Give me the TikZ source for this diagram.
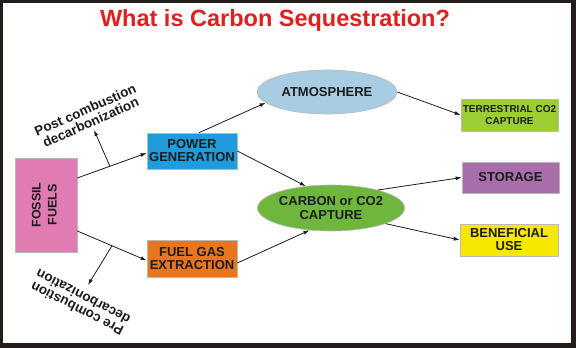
\documentclass[tikz,border=0pt]{standalone}
\usepackage{fontspec}
\setmainfont{Liberation Sans}
\usepackage{graphicx}
\usetikzlibrary{arrows.meta, shapes.geometric, calc}

\definecolor{framedark}{RGB}{35,30,28}
\definecolor{titlered}{RGB}{222,32,30}
\definecolor{txtdark}{RGB}{28,28,28}
\definecolor{fossilpink}{RGB}{224,124,178}
\definecolor{powerblue}{RGB}{30,156,220}
\definecolor{fuelorange}{RGB}{232,118,30}
\definecolor{atmosblue}{RGB}{168,204,226}
\definecolor{capturegreen}{RGB}{110,182,60}
\definecolor{terrgreen}{RGB}{156,206,52}
\definecolor{storepurple}{RGB}{168,110,172}
\definecolor{benefyellow}{RGB}{246,232,0}

\begin{document}
\begin{tikzpicture}[x=1pt, y=-1pt,
  box/.style={draw=gray!55, line width=0.6pt, minimum width=90pt, minimum height=36pt,
              align=center, inner sep=1pt, text=txtdark,
              font=\fontsize{13}{13}\selectfont\bfseries},
  sbox/.style={box, minimum width=97pt, minimum height=32pt},
  oval/.style={ellipse, draw=gray!55, line width=0.6pt, align=center, inner sep=0pt,
               text=txtdark, font=\fontsize{13}{14}\selectfont\bfseries},
  arr/.style={-{Latex[length=6pt, width=4pt]}, line width=0.8pt, color=txtdark},
  side/.style={align=center, text=txtdark, inner sep=0pt,
               font=\fontsize{13.5}{13.5}\selectfont\bfseries}
]

  % Frame
  \fill[framedark] (0,0) rectangle (576,348);
  \fill[white] (3,3) rectangle (571,343);

  % Title
  \node[text=titlered, font=\fontsize{23.5}{27}\selectfont\bfseries] (title) at (275,20)
    {What is Carbon Sequestration?};

  % Source and process boxes
  \node[box, fill=fossilpink, minimum width=62pt, minimum height=94pt,
        font=\fontsize{12.5}{13}\selectfont\bfseries] (fossil) at (46,205)
    {\rotatebox{90}{\begin{tabular}{@{}c@{}}FOSSIL\\[3pt]FUELS\end{tabular}}};
  \node[box, fill=powerblue] (power) at (192,151) {POWER\\GENERATION};
  \node[box, fill=fuelorange, minimum height=37pt] (fuelgas) at (192,258.5) {FUEL GAS\\EXTRACTION};

  % Ovals
  \node[oval, fill=atmosblue, minimum width=140pt, minimum height=44pt] (atmos) at (327,92) {ATMOSPHERE};
  \node[oval, fill=capturegreen, minimum width=135pt, minimum height=46pt] (capture) at (331,208)
    {CARBON or CO2\\CAPTURE};

  % Output boxes
  \node[sbox, fill=terrgreen, font=\fontsize{10}{12}\selectfont\bfseries] (terr) at (509.5,115)
    {TERRESTRIAL CO2\\CAPTURE};
  \node[sbox, fill=storepurple, minimum height=31pt] (storage) at (510.5,177.5) {STORAGE};
  \node[sbox, fill=benefyellow, minimum width=98pt] (benef) at (509,240) {BENEFICIAL\\USE};

  % Side labels
  \node[side, rotate=24] (postlbl) at (88,116) {Post combustion\\decarbonization};
  \node[side, rotate=153] (prelbl) at (80,303) {Pre combustion\\decarbonization};
  \coordinate (posttip) at (94,130);
  \coordinate (pretip) at (88,285);

  % Arrows from fossil fuels
  \draw[arr] ([yshift=27pt]fossil.east) -- coordinate[pos=0.47] (postsplit) ([yshift=-2pt]power.west);
  \draw[arr] ([yshift=-26pt]fossil.east) -- coordinate[pos=0.5] (presplit) ([yshift=-2pt]fuelgas.west);
  \draw[arr] (postsplit) -- (posttip);
  \draw[arr] (presplit) -- (pretip);

  % Arrows into the ovals
  \draw[arr] ([xshift=7pt]power.north) -- (atmos.190);
  \draw[arr] (power.east) -- (capture.139);
  \draw[arr] ([yshift=-4.5pt]fuelgas.east) -- (capture.226);

  % Arrows to the outputs
  \draw[arr] (atmos.east) -- (terr.west);
  \draw[arr] (capture.21) -- (storage.west);
  \draw[arr] (capture.344) -- (benef.west);

\end{tikzpicture}
\end{document}
